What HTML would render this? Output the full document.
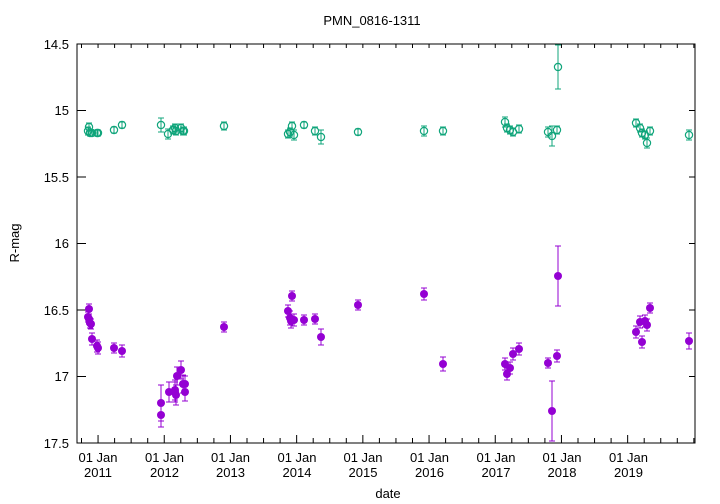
<!DOCTYPE html><html><head><meta charset="utf-8"><style>body{margin:0;background:#fff}svg{display:block;font-family:"Liberation Sans",sans-serif;font-size:13px}</style></head><body>
<svg id="s" width="720" height="504" xmlns="http://www.w3.org/2000/svg">
<rect x="0" y="0" width="720" height="504" fill="#fff"/>
<text x="372" y="25" text-anchor="middle">PMN_0816-1311</text>
<rect x="77" y="44" width="618" height="399" fill="none" stroke="#000" stroke-width="1"/>
<g id="ax" stroke="#000"></g>
<g font-size="13">
<text x="69" y="49" text-anchor="end">14.5</text>
<text x="69" y="115" text-anchor="end">15</text>
<text x="69" y="182" text-anchor="end">15.5</text>
<text x="69" y="248" text-anchor="end">16</text>
<text x="69" y="315" text-anchor="end">16.5</text>
<text x="69" y="381" text-anchor="end">17</text>
<text x="69" y="448" text-anchor="end">17.5</text>
</g>
<g id="xl" text-anchor="middle"></g>
<text x="388" y="498" text-anchor="middle">date</text>
<text transform="translate(19,243) rotate(-90)" text-anchor="middle">R-mag</text>
<g id="g"></g><g id="p"></g>
</svg>
<script>
var ns="http://www.w3.org/2000/svg";
function el(par,t,a,txt){var e=document.createElementNS(ns,t);for(var k in a)e.setAttribute(k,a[k]);if(txt)e.textContent=txt;document.getElementById(par).appendChild(e);}
[44,110.5,177,243.5,310,376.5,443].forEach(function(y){el("ax","line",{x1:77,x2:86,y1:y,y2:y});el("ax","line",{x1:695,x2:689,y1:y,y2:y});});
var yrs=[98,164.5,230.5,297,363,429.5,496,562,628.5];
for(var x=81.5;x<695;x+=16.55){var maj=yrs.some(function(v){return Math.abs(v-x)<3});el("ax","line",{x1:x,x2:x,y1:443,y2:maj?435:438});el("ax","line",{x1:x,x2:x,y1:44,y2:48});}
yrs.forEach(function(x,i){el("xl","text",{x:x,y:462},"01 Jan");el("xl","text",{x:x,y:477},""+(2011+i));});
var P=[[89,309,5],[88,317,5],[89,319,5],[90,323,5],[91,324,5],[92,339,6],[97,346,6],[98,348,6],[114,348,5],[122,351,6],[161,403,18],[161,415,12],[169,392,10],[175,392,10],[176,395,10],[177,376,9],[175,390,10],[181,370,9],[183,384,9],[185,392,9],[185,384,8],[224,327,5],[288,311,6],[290,318,7],[291,321,7],[292,296,5],[294,320,6],[304,320,5],[315,319,5],[321,337,8],[358,305,5],[424,294,6],[443,364,7],[505,364,6],[507,374,6],[510,368,6],[513,354,6],[519,349,6],[548,363,5],[552,411,30],[557,356,6],[558,276,30],[636,332,6],[640,322,6],[642,342,6],[645,321,6],[647,325,6],[650,308,5],[689,341,8]];
var G=[[89,127,4],[88,131,4],[90,133,3],[92,133,3],[97,133,3],[98,133,3],[114,130,3],[122,125,3],[161,125,7],[168,134,5],[173,130,4],[175,128,4],[176,131,4],[181,128,4],[183,131,4],[184,131,4],[224,126,4],[288,134,4],[290,132,4],[292,126,4],[294,135,5],[304,125,3],[315,131,4],[321,137,7],[358,132,3],[424,131,5],[443,131,4],[505,122,5],[507,128,4],[510,130,4],[513,132,4],[519,129,4],[548,132,5],[552,136,10],[557,130,4],[558,67,22],[636,123,4],[640,128,4],[642,133,4],[645,135,4],[647,143,5],[650,131,4],[689,135,5]];
function err(id,c,x,y,e){el(id,"line",{x1:x,x2:x,y1:y-e,y2:y+e,stroke:c});el(id,"line",{x1:x-3,x2:x+3,y1:y-e,y2:y-e,stroke:c});el(id,"line",{x1:x-3,x2:x+3,y1:y+e,y2:y+e,stroke:c});}
G.forEach(function(d){err("g","#10a57b",d[0],d[1],d[2]);el("g","circle",{cx:d[0],cy:d[1],r:3.6,fill:"none",stroke:"#10a57b","stroke-width":1.2});});
P.forEach(function(d){err("p","#9400d3",d[0],d[1],d[2]);el("p","circle",{cx:d[0],cy:d[1],r:4,fill:"#9400d3"});});
</script>
</body></html>
